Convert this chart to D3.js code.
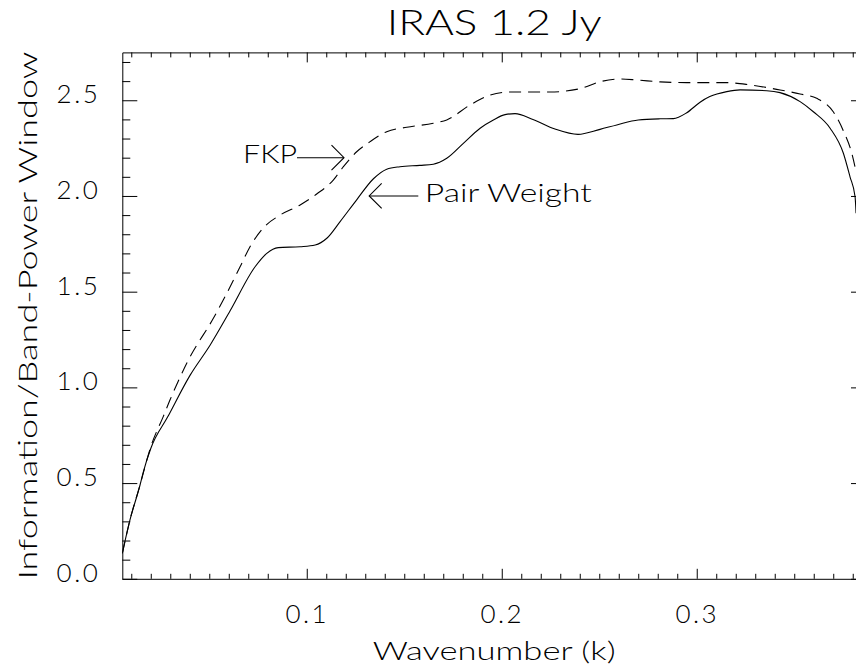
<!DOCTYPE html>
<html>
<head>
<meta charset="utf-8">
<script src="https://cdn.jsdelivr.net/npm/d3@7"></script>
<style>
  html, body { margin: 0; padding: 0; background: #fff; }
  svg { display: block; }
  text { font-family: "Lato", "DejaVu Sans", sans-serif; font-weight: 300; fill: #000; }
</style>
</head>
<body>
<svg id="chart" width="856" height="668"></svg>
<script>
// ---- data ----
const chartTitle = "IRAS 1.2 Jy";
const xTitle = "Wavenumber (k)";
const yTitle = "Information/Band-Power Window";

const xMajorTicks = [0.1, 0.2, 0.3];
const xTickLabels = ["0.1", "0.2", "0.3"];
const yMajorTicks = [0.0, 0.5, 1.0, 1.5, 2.0, 2.5];
const yTickLabels = ["0.0", "0.5", "1.0", "1.5", "2.0", "2.5"];

// Pair Weight (solid)
const kPair = [0.0054, 0.0094, 0.0145, 0.0162, 0.020, 0.0287, 0.0402, 0.0504, 0.0607,
  0.0735, 0.0795, 0.0854, 0.0966, 0.1043, 0.1103, 0.1171, 0.1256, 0.1342, 0.141, 0.1478, 0.158,
  0.1649, 0.1718, 0.1803, 0.1889, 0.1957, 0.2017, 0.2068, 0.216, 0.2273, 0.2391, 0.2504, 0.259,
  0.270, 0.2812, 0.288, 0.2949, 0.3017, 0.3067, 0.3154, 0.3222, 0.3359, 0.3427, 0.353, 0.3598,
  0.3684, 0.3752, 0.3786, 0.3812, 0.3817];
const vPair = [0.133, 0.31, 0.49, 0.559, 0.681, 0.846, 1.064, 1.22, 1.40,
  1.63, 1.70, 1.73, 1.735, 1.744, 1.779, 1.866, 1.98, 2.09, 2.14, 2.153, 2.16,
  2.166, 2.197, 2.275, 2.354, 2.397, 2.425, 2.43, 2.40, 2.35, 2.322, 2.348, 2.371,
  2.397, 2.403, 2.404, 2.435, 2.49, 2.519, 2.545, 2.554, 2.55, 2.54, 2.493, 2.44,
  2.354, 2.223, 2.10, 1.996, 1.91];

// FKP (dashed)
const kFKP = [0.0054, 0.0094, 0.0145, 0.020, 0.0265, 0.0299, 0.0342, 0.0393, 0.0521, 0.0581, 0.0658,
  0.0709, 0.0777, 0.0863, 0.0966, 0.1051, 0.1136, 0.1188, 0.1256, 0.1325, 0.141, 0.1513, 0.1649,
  0.1718, 0.1837, 0.194, 0.2042, 0.2247, 0.240, 0.2504, 0.2607, 0.2692, 0.2812, 0.2949, 0.3154,
  0.3274, 0.341, 0.353, 0.3615, 0.370, 0.3752, 0.3795, 0.3817];
const vFKP = [0.133, 0.31, 0.49, 0.69, 0.85, 0.935, 1.035, 1.143, 1.361, 1.474, 1.63,
  1.735, 1.833, 1.90, 1.953, 2.01, 2.083, 2.153, 2.231, 2.284, 2.336, 2.359, 2.38,
  2.397, 2.475, 2.527, 2.543, 2.543, 2.56, 2.597, 2.611, 2.606, 2.596, 2.592, 2.592,
  2.58, 2.557, 2.533, 2.51, 2.44, 2.34, 2.223, 2.127];

// annotations: label, arrow tip (k, value), arrow tail k
const annLabels = ["FKP", "Pair Weight"];
const annTipK = [0.1191, 0.132];
const annTipV = [2.2, 2.0];
const annTailK = [0.095, 0.1572];

// ---- layout ----
const svg = d3.select("#chart");
const L = 122.3, R = 866, T = 52.4, B = 578.8;
const x = d3.scaleLinear().domain([0.0054, 0.3868]).range([L, R]);
const y = d3.scaleLinear().domain([0, 2.75]).range([B, T]);

const fs = 26;

svg.append("clipPath").attr("id", "plotclip")
  .append("rect").attr("x", L).attr("y", T).attr("width", R - L).attr("height", B - T);

const xMinor = d3.range(1, 39).map(i => i / 100).filter(v => !xMajorTicks.some(m => Math.abs(m - v) < 1e-9));
const yMinor = d3.range(1, 28).map(i => i / 10).filter(v => !yMajorTicks.some(m => Math.abs(m - v) < 1e-9));

function styleAxis(g) {
  g.selectAll("path.domain").attr("stroke", "#000").attr("stroke-width", 1);
  g.selectAll(".tick line").attr("stroke", "#000").attr("stroke-width", 1);
}

// bottom axis
const gB = svg.append("g").attr("transform", `translate(0,${B})`)
  .call(d3.axisBottom(x).tickValues(xMajorTicks).tickSize(-10).tickSizeOuter(0)
    .tickFormat((d, i) => xTickLabels[i]));
styleAxis(gB);
gB.selectAll("text").attr("y", 44).attr("dy", null).attr("font-size", fs)
  .attr("font-family", null).attr("letter-spacing", 2.5).attr("fill", "#000");
svg.append("g").attr("transform", `translate(0,${B})`)
  .call(d3.axisBottom(x).tickValues(xMinor).tickSize(-5).tickFormat(""))
  .call(g => g.select(".domain").remove()).call(styleAxis);

// top axis
const gT = svg.append("g").attr("transform", `translate(0,${T})`)
  .call(d3.axisTop(x).tickValues(xMajorTicks).tickSize(-10).tickSizeOuter(0).tickFormat(""));
styleAxis(gT);
svg.append("g").attr("transform", `translate(0,${T})`)
  .call(d3.axisTop(x).tickValues(xMinor).tickSize(-5).tickFormat(""))
  .call(g => g.select(".domain").remove()).call(styleAxis);

// left axis
const gL = svg.append("g").attr("transform", `translate(${L},0)`)
  .call(d3.axisLeft(y).tickValues(yMajorTicks).tickSize(-15).tickSizeOuter(0)
    .tickFormat((d, i) => yTickLabels[i]));
styleAxis(gL);
gL.selectAll("text").attr("x", -22).attr("dy", "0.1em").attr("font-size", fs)
  .attr("font-family", null).attr("letter-spacing", 2.5).attr("fill", "#000");
svg.append("g").attr("transform", `translate(${L},0)`)
  .call(d3.axisLeft(y).tickValues(yMinor).tickSize(-8).tickFormat(""))
  .call(g => g.select(".domain").remove()).call(styleAxis);

// right axis
const gR = svg.append("g").attr("transform", `translate(${R},0)`)
  .call(d3.axisRight(y).tickValues(yMajorTicks).tickSize(-15).tickSizeOuter(0).tickFormat(""));
styleAxis(gR);
svg.append("g").attr("transform", `translate(${R},0)`)
  .call(d3.axisRight(y).tickValues(yMinor).tickSize(-8).tickFormat(""))
  .call(g => g.select(".domain").remove()).call(styleAxis);

// lines
const line = d3.line().x(d => x(d[0])).y(d => y(d[1])).curve(d3.curveMonotoneX);
const plot = svg.append("g").attr("clip-path", "url(#plotclip)");
plot.append("path").datum(kPair.map((k, i) => [k, vPair[i]]))
  .attr("d", line).attr("fill", "none").attr("stroke", "#000").attr("stroke-width", 1.1);
plot.append("path").datum(kFKP.map((k, i) => [k, vFKP[i]]))
  .attr("d", line).attr("fill", "none").attr("stroke", "#000").attr("stroke-width", 1.1)
  .attr("stroke-dasharray", "12,7");

// annotations
annLabels.forEach((lab, i) => {
  const tx = x(annTipK[i]), ty = y(annTipV[i]);
  const ex = x(annTailK[i]);
  const dir = ex < tx ? 1 : -1;
  svg.append("line").attr("x1", ex).attr("y1", ty).attr("x2", tx).attr("y2", ty)
    .attr("stroke", "#000").attr("stroke-width", 1.1);
  svg.append("path")
    .attr("d", `M${tx - dir * 12.5},${ty - 12.5}L${tx},${ty}L${tx - dir * 12.5},${ty + 12.5}`)
    .attr("fill", "none").attr("stroke", "#000").attr("stroke-width", 1.1);
  const t = svg.append("text").attr("font-size", fs).text(lab);
  if (dir === 1) {
    t.attr("x", ex).attr("y", ty + 5.6).attr("text-anchor", "end")
      .attr("textLength", 54).attr("lengthAdjust", "spacingAndGlyphs");
  } else {
    t.attr("x", ex + 6.5).attr("y", ty + 5.7).attr("text-anchor", "start")
      .attr("textLength", 167).attr("lengthAdjust", "spacingAndGlyphs");
  }
});

// titles
svg.append("text").attr("x", (L + R) / 2).attr("y", 35).attr("text-anchor", "middle")
  .attr("font-size", 35).attr("textLength", 215).attr("lengthAdjust", "spacingAndGlyphs")
  .text(chartTitle);
svg.append("text").attr("x", (L + R) / 2).attr("y", 660).attr("text-anchor", "middle")
  .attr("font-size", fs).attr("textLength", 243).attr("lengthAdjust", "spacingAndGlyphs")
  .text(xTitle);
svg.append("text").attr("transform", `translate(37,${(T + B) / 2}) rotate(-90)`)
  .attr("text-anchor", "middle").attr("font-size", fs)
  .attr("textLength", 528).attr("lengthAdjust", "spacingAndGlyphs")
  .text(yTitle);
</script>
</body>
</html>
